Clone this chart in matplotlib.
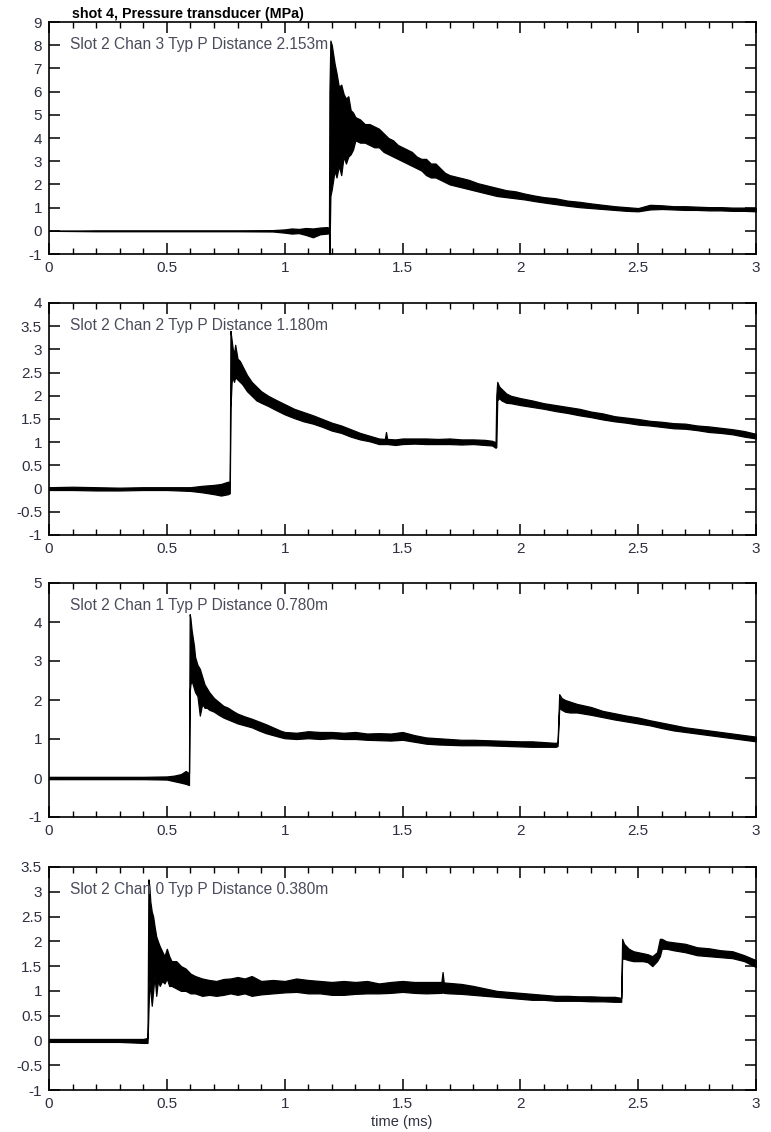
import matplotlib as mpl

mpl.use("Agg")
import matplotlib.pyplot as plt
from matplotlib.ticker import MultipleLocator

TITLE = "shot 4, Pressure transducer (MPa)"
XLABEL = "time (ms)"

# one entry per panel, top to bottom: label, y range, y tick step
LABELS = [
    "Slot 2 Chan 3 Typ P Distance 2.153m",
    "Slot 2 Chan 2 Typ P Distance 1.180m",
    "Slot 2 Chan 1 Typ P Distance 0.780m",
    "Slot 2 Chan 0 Typ P Distance 0.380m",
]
YLIMS = [(-1, 9), (-1, 4), (-1, 5), (-1, 3.5)]
YSTEPS = [1, 0.5, 1, 0.5]

T1 = [0.00, 0.20, 0.40, 0.60, 0.80, 0.95, 1.00, 1.03, 1.06, 1.09, 1.12, 1.15, 1.18, 1.188,
      1.190, 1.194, 1.200, 1.206, 1.212, 1.220, 1.230, 1.240, 1.250, 1.260, 1.270, 1.280,
      1.290, 1.300, 1.320, 1.340, 1.360, 1.380, 1.400, 1.420, 1.440, 1.460, 1.480, 1.500,
      1.520, 1.540, 1.560, 1.580, 1.600, 1.620, 1.640, 1.660, 1.680, 1.700, 1.740, 1.780,
      1.820, 1.860, 1.900, 1.940, 1.980, 2.020, 2.060, 2.100, 2.150, 2.200, 2.250, 2.300,
      2.350, 2.400, 2.450, 2.500, 2.550, 2.600, 2.650, 2.700, 2.750, 2.800, 2.850, 2.900,
      2.950, 3.000]
LO1 = [0.00, -0.02, -0.02, -0.02, -0.02, -0.03, -0.08, -0.12, -0.10, -0.18, -0.28, -0.15, -0.12, -0.10,
       -1.00, 1.50, 1.80, 2.20, 2.60, 2.30, 2.80, 2.40, 3.20, 2.90, 3.20, 3.30,
       3.50, 3.90, 3.80, 3.80, 3.70, 3.60, 3.60, 3.40, 3.30, 3.20, 3.10, 3.00,
       2.90, 2.80, 2.70, 2.60, 2.40, 2.30, 2.30, 2.20, 2.10, 2.00, 1.90, 1.80,
       1.70, 1.60, 1.50, 1.45, 1.40, 1.35, 1.28, 1.22, 1.15, 1.08, 1.02, 0.98,
       0.94, 0.90, 0.86, 0.84, 0.92, 0.94, 0.92, 0.90, 0.90, 0.88, 0.88, 0.86,
       0.86, 0.84]
HI1 = [0.00, 0.02, 0.02, 0.02, 0.02, 0.03, 0.06, 0.10, 0.08, 0.12, 0.10, 0.14, 0.16, 0.12,
       6.00, 8.20, 8.00, 7.60, 7.20, 6.80, 6.20, 6.30, 5.90, 5.70, 5.80, 5.20,
       5.10, 4.90, 4.80, 4.60, 4.60, 4.50, 4.40, 4.20, 4.00, 3.90, 3.70, 3.60,
       3.50, 3.40, 3.20, 3.10, 3.10, 2.90, 2.90, 2.70, 2.50, 2.40, 2.30, 2.20,
       2.05, 1.95, 1.85, 1.75, 1.70, 1.60, 1.52, 1.45, 1.40, 1.30, 1.25, 1.18,
       1.12, 1.06, 1.02, 0.98, 1.12, 1.10, 1.06, 1.06, 1.04, 1.02, 1.02, 1.00,
       1.00, 0.98]

T2 = [0.00, 0.10, 0.20, 0.30, 0.40, 0.50, 0.60, 0.65, 0.70, 0.73, 0.76, 0.767,
      0.770, 0.775, 0.780, 0.785, 0.790, 0.800, 0.810, 0.820, 0.840, 0.860, 0.880, 0.900,
      0.930, 0.960, 1.000, 1.040, 1.080, 1.120, 1.160, 1.200, 1.240, 1.280, 1.320, 1.360,
      1.400, 1.425, 1.430, 1.435, 1.470, 1.500, 1.550, 1.600, 1.650, 1.700, 1.750, 1.800,
      1.850, 1.880, 1.895, 1.898, 1.902, 1.910, 1.920, 1.940, 1.960, 2.000, 2.050, 2.100,
      2.150, 2.200, 2.250, 2.300, 2.350, 2.400, 2.450, 2.500, 2.550, 2.600, 2.650, 2.700,
      2.750, 2.800, 2.850, 2.900, 2.950, 3.000]
LO2 = [-0.03, -0.03, -0.04, -0.04, -0.03, -0.03, -0.05, -0.08, -0.12, -0.15, -0.12, -0.10,
       1.75, 2.30, 2.40, 2.30, 2.40, 2.35, 2.30, 2.25, 2.10, 2.00, 1.90, 1.85,
       1.78, 1.70, 1.60, 1.52, 1.45, 1.40, 1.33, 1.25, 1.20, 1.12, 1.06, 1.02,
       0.96, 0.96, 0.96, 0.96, 0.94, 0.96, 0.97, 0.96, 0.96, 0.96, 0.95, 0.96,
       0.94, 0.93, 0.88, 0.90, 1.90, 1.95, 1.90, 1.85, 1.84, 1.80, 1.76, 1.72,
       1.67, 1.63, 1.58, 1.54, 1.49, 1.45, 1.42, 1.38, 1.36, 1.33, 1.30, 1.29,
       1.26, 1.22, 1.20, 1.17, 1.12, 1.08]
HI2 = [0.03, 0.04, 0.03, 0.02, 0.03, 0.03, 0.03, 0.06, 0.08, 0.10, 0.15, 0.12,
       3.40, 3.20, 3.00, 2.90, 3.10, 2.80, 2.75, 2.65, 2.45, 2.30, 2.20, 2.10,
       2.00, 1.92, 1.82, 1.72, 1.65, 1.58, 1.50, 1.42, 1.36, 1.28, 1.20, 1.14,
       1.08, 1.07, 1.22, 1.07, 1.06, 1.08, 1.08, 1.08, 1.07, 1.08, 1.06, 1.06,
       1.05, 1.03, 1.00, 2.00, 2.30, 2.20, 2.15, 2.05, 2.00, 1.95, 1.90, 1.84,
       1.80, 1.76, 1.72, 1.66, 1.62, 1.56, 1.53, 1.50, 1.46, 1.44, 1.41, 1.40,
       1.36, 1.34, 1.31, 1.28, 1.24, 1.18]

T3 = [0.00, 0.10, 0.20, 0.30, 0.40, 0.50, 0.53, 0.56, 0.58, 0.594,
      0.597, 0.600, 0.605, 0.610, 0.615, 0.620, 0.630, 0.640, 0.650, 0.660, 0.670, 0.680,
      0.700, 0.720, 0.740, 0.760, 0.780, 0.800, 0.830, 0.860, 0.890, 0.920, 0.950, 0.980,
      1.000, 1.050, 1.100, 1.150, 1.200, 1.250, 1.300, 1.350, 1.400, 1.450, 1.500, 1.550,
      1.600, 1.650, 1.700, 1.750, 1.800, 1.850, 1.900, 1.950, 2.000, 2.050, 2.100, 2.150,
      2.158, 2.165, 2.175, 2.190, 2.210, 2.240, 2.270, 2.300, 2.350, 2.400, 2.450, 2.500,
      2.550, 2.600, 2.650, 2.700, 2.750, 2.800, 2.850, 2.900, 2.950, 3.000]
LO3 = [-0.03, -0.03, -0.03, -0.03, -0.03, -0.04, -0.08, -0.12, -0.15, -0.18,
       2.20, 2.40, 2.50, 2.40, 2.30, 2.20, 2.10, 1.60, 1.90, 1.80, 1.80, 1.75,
       1.70, 1.62, 1.55, 1.50, 1.45, 1.40, 1.35, 1.30, 1.22, 1.15, 1.10, 1.05,
       1.02, 1.00, 1.02, 1.00, 1.02, 1.00, 1.00, 0.98, 0.97, 0.96, 0.98, 0.93,
       0.88, 0.86, 0.85, 0.84, 0.84, 0.84, 0.83, 0.82, 0.81, 0.80, 0.80, 0.80,
       0.82, 1.80, 1.75, 1.70, 1.68, 1.68, 1.65, 1.62, 1.56, 1.50, 1.45, 1.40,
       1.35, 1.28, 1.22, 1.18, 1.14, 1.10, 1.06, 1.02, 0.98, 0.94]
HI3 = [0.03, 0.03, 0.03, 0.03, 0.03, 0.04, 0.06, 0.10, 0.18, 0.12,
       4.20, 4.10, 3.80, 3.60, 3.40, 3.10, 2.90, 2.80, 2.60, 2.40, 2.30, 2.20,
       2.05, 1.95, 1.85, 1.80, 1.72, 1.65, 1.58, 1.52, 1.45, 1.38, 1.30, 1.22,
       1.18, 1.16, 1.20, 1.18, 1.18, 1.16, 1.18, 1.14, 1.15, 1.14, 1.18, 1.10,
       1.04, 1.02, 1.00, 0.98, 0.98, 0.97, 0.96, 0.95, 0.94, 0.94, 0.92, 0.90,
       0.92, 2.15, 2.05, 2.00, 1.96, 1.90, 1.86, 1.82, 1.72, 1.66, 1.60, 1.55,
       1.48, 1.42, 1.36, 1.30, 1.26, 1.22, 1.18, 1.14, 1.10, 1.06]

T4 = [0.00, 0.10, 0.20, 0.30, 0.40, 0.418,
      0.422, 0.426, 0.430, 0.436, 0.442, 0.448, 0.455, 0.462, 0.470, 0.480, 0.490, 0.500,
      0.510, 0.520, 0.540, 0.560, 0.580, 0.600, 0.620, 0.650, 0.680, 0.710, 0.740, 0.770,
      0.800, 0.830, 0.860, 0.900, 0.950, 1.000, 1.050, 1.100, 1.150, 1.200, 1.250, 1.300,
      1.350, 1.400, 1.450, 1.500, 1.550, 1.600, 1.665, 1.670, 1.675, 1.700, 1.750, 1.800,
      1.850, 1.900, 1.950, 2.000, 2.050, 2.100, 2.150, 2.200, 2.250, 2.300, 2.350, 2.400,
      2.428, 2.432, 2.440, 2.460, 2.480, 2.500, 2.520, 2.540, 2.560, 2.580, 2.592, 2.600,
      2.620, 2.650, 2.700, 2.750, 2.800, 2.850, 2.900, 2.950, 3.000]
LO4 = [-0.03, -0.03, -0.03, -0.03, -0.05, -0.05,
       0.60, 1.20, 1.00, 0.70, 1.00, 1.30, 0.90, 1.20, 1.10, 1.20, 1.15, 1.25,
       1.10, 1.10, 1.05, 1.00, 1.00, 0.95, 0.95, 0.90, 0.92, 0.90, 0.92, 0.95,
       0.92, 0.95, 0.90, 0.93, 0.95, 0.97, 0.98, 0.95, 0.95, 0.92, 0.92, 0.94,
       0.95, 0.95, 0.96, 0.98, 0.96, 0.95, 0.96, 0.97, 0.96, 0.95, 0.94, 0.92,
       0.90, 0.88, 0.86, 0.84, 0.82, 0.82, 0.80, 0.80, 0.80, 0.79, 0.79, 0.78,
       0.78, 1.65, 1.65, 1.62, 1.60, 1.60, 1.60, 1.58, 1.50, 1.60, 1.70, 1.85,
       1.85, 1.82, 1.78, 1.72, 1.70, 1.68, 1.66, 1.60, 1.48]
HI4 = [0.03, 0.03, 0.03, 0.03, 0.03, 0.05,
       3.25, 3.10, 2.80, 2.60, 2.50, 2.30, 2.10, 2.00, 1.90, 1.80, 1.70, 1.85,
       1.70, 1.60, 1.60, 1.50, 1.45, 1.35, 1.30, 1.25, 1.22, 1.20, 1.24, 1.25,
       1.28, 1.25, 1.30, 1.20, 1.22, 1.20, 1.25, 1.22, 1.20, 1.18, 1.20, 1.18,
       1.20, 1.15, 1.18, 1.20, 1.18, 1.18, 1.18, 1.38, 1.17, 1.16, 1.14, 1.10,
       1.05, 1.00, 0.98, 0.96, 0.94, 0.92, 0.90, 0.90, 0.89, 0.89, 0.88, 0.88,
       0.86, 2.05, 1.95, 1.85, 1.80, 1.78, 1.76, 1.74, 1.70, 1.78, 2.05, 2.05,
       2.00, 1.98, 1.95, 1.88, 1.86, 1.82, 1.80, 1.72, 1.62]

TRACES = [(T1, LO1, HI1), (T2, LO2, HI2), (T3, LO3, HI3), (T4, LO4, HI4)]

TEXT = "#2e3040"
NOTE = "#4a4c5c"

plt.rcParams["font.family"] = ["Liberation Sans", "DejaVu Sans"]

fig = plt.figure(figsize=(7.71, 11.32), dpi=100)
W, H = 771, 1132
# panel boxes in pixels: (top, bottom)
BOXES = [(22, 254), (303, 535), (583, 817), (867, 1090)]
LEFT, RIGHT = 49, 756
XT = [0, 0.5, 1, 1.5, 2, 2.5, 3]

for (top, bottom), label, ylim, ystep, (t, lo, hi) in zip(BOXES, LABELS, YLIMS, YSTEPS, TRACES):
    ax = fig.add_axes([LEFT / W, 1 - bottom / H, (RIGHT - LEFT) / W, (bottom - top) / H])
    ax.fill_between(t, lo, hi, color="black", linewidth=0.9, edgecolor="black")
    ax.set_xlim(0, 3)
    ax.set_ylim(*ylim)
    ax.xaxis.set_minor_locator(MultipleLocator(0.1))
    ax.set_xticks(XT, [f"{v:g}" for v in XT])
    yt = []
    v = ylim[0]
    while v <= ylim[1] + 1e-9:
        yt.append(v)
        v += ystep
    ax.set_yticks(yt, [f"{v:g}" for v in yt])
    ax.tick_params(which="major", direction="in", length=8, width=1.1, top=True, right=True,
                   labelsize=11, colors="black", labelcolor=TEXT, pad=5)
    ax.tick_params(which="minor", direction="in", length=4.5, width=1.0, top=True, right=False,
                   left=False)
    for s in ax.spines.values():
        s.set_linewidth(1.2)
    ax.annotate(label, xy=(0, 1), xycoords="axes fraction", xytext=(21, -27),
                textcoords="offset pixels", fontsize=11.2, color=NOTE, va="baseline", ha="left")

fig.text(72 / W, 1 - 18 / H, TITLE, fontsize=10.3, fontweight="bold", color="black",
         ha="left", va="baseline")
fig.text(402 / W, 1 - 1126 / H, XLABEL, fontsize=10.5, color=TEXT, ha="center", va="baseline")

fig.savefig("out.png", dpi=100, facecolor="white")
